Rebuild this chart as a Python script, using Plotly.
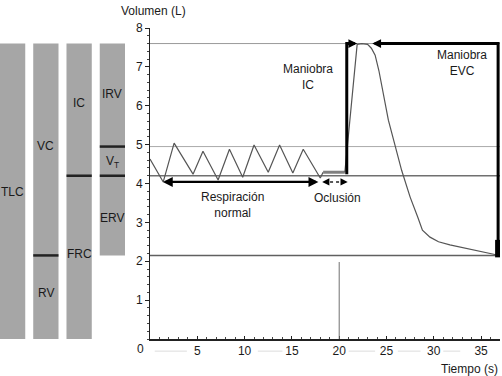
import plotly.graph_objects as go

# ---------------- data ----------------
# lung-volume levels (L)
TLC = 7.6
VT_TOP = 4.95
FRC = 4.2
RV = 2.15
levels = [TLC, VT_TOP, FRC, RV]

# left column bars
bar_names = ["TLC", "VC", "FRC", "IRV"]
bar_pos = [0, 1, 2, 3]
bar_base = [0, 0, 0, RV]
bar_height = [TLC, TLC, TLC, TLC - RV]
# separators inside the columns: (column, level)
sep_col = [1, 2, 3, 3]
sep_level = [RV, FRC, VT_TOP, FRC]
# column labels
lab_text = ["TLC", "VC", "RV", "IC", "FRC", "IRV", "V<sub>T</sub>", "ERV"]
lab_col = [0, 1, 1, 2, 2, 3, 3, 3]
lab_y = [3.78, 4.96, 1.18, 6.07, 2.18, 6.3, 4.55, 3.11]

# spirogram: normal breathing
t_breath = [0, 1.4, 2.55, 4.55, 5.6, 7.2, 8.4, 9.8, 11.0, 12.5, 13.7, 15.1, 16.2, 18.0, 18.3]
v_breath = [4.63, 4.04, 5.04, 4.24, 4.83, 4.09, 4.88, 4.16, 4.99, 4.29, 4.99, 4.27, 4.88, 4.14, 4.29]
# occlusion plateau
t_occl = [18.3, 20.6]
v_occl = [4.29, 4.29]
# IC / EVC maneuver
t_man = [20.6, 21.9, 22.4, 23.0, 23.4, 23.8, 24.2, 25.2, 26.6, 27.5, 28.3, 28.8, 29.6, 30.5, 31.7, 33.0, 34.6, 36.7]
v_man = [4.29, 7.58, 7.6, 7.58, 7.48, 7.3, 6.9, 5.63, 4.34, 3.65, 3.14, 2.80, 2.62, 2.5, 2.42, 2.35, 2.27, 2.16]

# brackets
ic_x = [20.8, 20.8, 21.6]
ic_y = [4.24, TLC, TLC]
evc_x = [23.9, 36.8, 36.8]
evc_y = [TLC, TLC, 2.5]
evc_end_x = [36.8, 36.8]
evc_end_y = [2.55, 2.1]

# faint segments between the time labels (as in the original figure)
seg_x0 = [0.5, 11.4, 21.0, 26.2, 31.0]
seg_x1 = [3.9, 14.0, 23.8, 28.6, 32.8]

x_ticks = [5, 10, 15, 20, 25, 30, 35]
y_ticks = [1, 2, 3, 4, 5, 6, 7, 8]

FONT = "Liberation Sans, Arial, sans-serif"
TXT = "#1a1a1a"

fig = go.Figure()

# left bars
fig.add_trace(go.Bar(x=bar_pos, y=bar_height, base=bar_base, width=0.76,
                     marker=dict(color="#a6a6a6", line=dict(width=0)),
                     xaxis="x2", yaxis="y", hoverinfo="skip"))

# curves
fig.add_trace(go.Scatter(x=t_breath, y=v_breath, mode="lines",
                         line=dict(color="#555555", width=1.2)))
fig.add_trace(go.Scatter(x=t_occl, y=v_occl, mode="lines",
                         line=dict(color="#808080", width=3)))
fig.add_trace(go.Scatter(x=t_man, y=v_man, mode="lines",
                         line=dict(color="#555555", width=1.2)))
fig.add_trace(go.Scatter(x=ic_x, y=ic_y, mode="lines",
                         line=dict(color="black", width=3)))
fig.add_trace(go.Scatter(x=evc_x, y=evc_y, mode="lines",
                         line=dict(color="black", width=3)))
fig.add_trace(go.Scatter(x=evc_end_x, y=evc_end_y, mode="lines",
                         line=dict(color="black", width=6)))

shapes = []
# horizontal reference lines
lev_color = ["#9a9a9a", "#aaaaaa", "#707070", "#606060"]
lev_width = [1, 1, 1.5, 1.5]
for lv, c, w in zip(levels, lev_color, lev_width):
    shapes.append(dict(type="line", xref="x domain", yref="y", x0=0, x1=1, y0=lv, y1=lv,
                       line=dict(color=c, width=w), layer="below"))
# vertical marker at t = 20
shapes.append(dict(type="line", xref="x", yref="y", x0=20, x1=20, y0=0, y1=1.98,
                   line=dict(color="#707070", width=1)))
# separators in columns
for c, lv in zip(sep_col, sep_level):
    shapes.append(dict(type="line", xref="x2", yref="y", x0=c - 0.38, x1=c + 0.38, y0=lv, y1=lv,
                       line=dict(color="#222222", width=2.5)))
# occlusion dotted arrow line
shapes.append(dict(type="line", xref="x", yref="y", x0=18.4, x1=20.7, y0=4.04, y1=4.04,
                   line=dict(color="#222222", width=1.5, dash="dot")))
# faint segments under the axis
for a, b in zip(seg_x0, seg_x1):
    shapes.append(dict(type="line", xref="x", yref="paper", x0=a, x1=b, y0=-0.039, y1=-0.039,
                       line=dict(color="#dddddd", width=1)))

ann = []
for t, c, y in zip(lab_text, lab_col, lab_y):
    ann.append(dict(x=c, y=y, xref="x2", yref="y", text=t, showarrow=False,
                    font=dict(family=FONT, size=12, color=TXT)))

# arrows
def arrow(x, y, ax, ay, side="end", width=2, head=2, size=1):
    return dict(x=x, y=y, ax=ax, ay=ay, xref="x", yref="y", axref="x", ayref="y",
                text="", showarrow=True, arrowhead=head, startarrowhead=head,
                arrowside=side, arrowwidth=width, arrowsize=size, arrowcolor="black",
                startarrowsize=size)

ann.append(arrow(17.8, 4.04, 1.2, 4.04, side="end+start", width=2.2, size=0.9))
ann.append(arrow(20.9, 4.04, 20.5, 4.04, width=1.2, size=1.2))
ann.append(arrow(18.2, 4.04, 18.6, 4.04, width=1.2, size=1.2))
ann.append(arrow(21.9, TLC, 21.3, TLC, width=2.5, size=0.7))
ann.append(arrow(23.5, TLC, 24.2, TLC, width=2.5, size=0.7))

# text labels
txt_x = [8.7, 19.8, 16.7, 33.0]
txt_y = [3.44, 3.63, 6.73, 7.1]
txt = ["Respiración<br>normal", "Oclusión", "Maniobra<br>IC", "Maniobra<br>EVC"]
for x, y, t in zip(txt_x, txt_y, txt):
    ann.append(dict(x=x, y=y, xref="x", yref="y", text=t, showarrow=False,
                    font=dict(family=FONT, size=12, color=TXT)))

# axis titles and origin label
ann.append(dict(x=0, y=1, xref="x domain", yref="paper", xanchor="center", yanchor="bottom",
                xshift=3, yshift=8, text="Volumen (L)", showarrow=False,
                font=dict(family=FONT, size=12, color=TXT)))
ann.append(dict(x=1, y=0, xref="x domain", yref="paper", xanchor="right", yanchor="top",
                yshift=-21, text="Tiempo (s)", showarrow=False,
                font=dict(family=FONT, size=12, color=TXT)))
ann.append(dict(x=0, y=0, xref="x", yref="y", xanchor="center", yanchor="middle",
                xshift=-10, yshift=-10, text="0", showarrow=False,
                font=dict(family=FONT, size=12, color=TXT)))

fig.update_layout(
    width=502, height=376,
    margin=dict(l=0, r=2, t=28, b=37),
    paper_bgcolor="white", plot_bgcolor="white",
    showlegend=False,
    barmode="overlay",
    font=dict(family=FONT, size=12, color=TXT),
    xaxis=dict(domain=[0.3, 1], range=[0, 37], showgrid=False, zeroline=False,
               showline=True, linecolor="#222222", linewidth=1.5,
               tickvals=x_ticks, ticks="inside", ticklen=3, tickcolor="#222222",
               minor=dict(dtick=1, ticks="inside", ticklen=2, tickcolor="#444444"),
               tickfont=dict(family=FONT, size=12, color=TXT), anchor="y"),
    xaxis2=dict(domain=[0, 0.25], range=[-0.379, 3.379], visible=False, anchor="y"),
    yaxis=dict(range=[0, 8], showgrid=False, zeroline=False, anchor="x",
               showline=True, linecolor="#222222", linewidth=1,
               tickvals=y_ticks, ticks="outside", ticklen=4, tickcolor="#222222",
               minor=dict(dtick=0.2, ticks="outside", ticklen=2, tickcolor="#444444"),
               tickfont=dict(family=FONT, size=12, color=TXT)),
    shapes=shapes,
    annotations=ann,
)

fig.write_html("out.html", config={"displayModeBar": False},
               post_script="document.body.style.margin='0';")
